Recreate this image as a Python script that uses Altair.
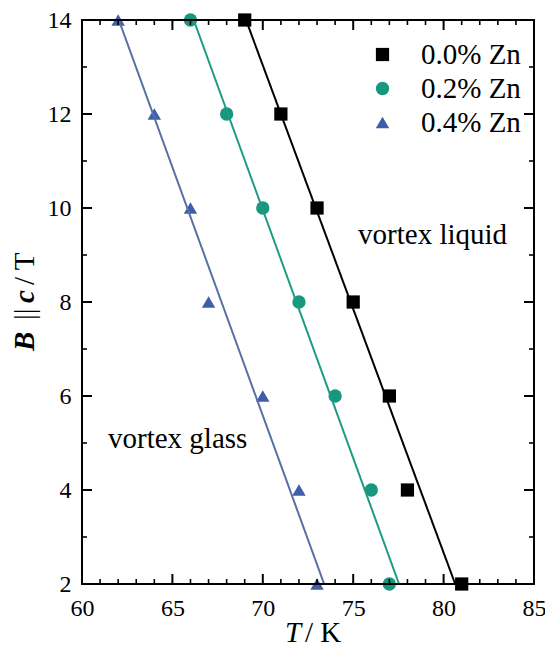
import altair as alt
import pandas as pd

# ---- data ----
B_field = [14, 12, 10, 8, 6, 4, 2]
T_00 = [69, 71, 73, 75, 77, 78, 81]
T_02 = [66, 68, 70, 72, 74, 76, 77]
T_04 = [62, 64, 66, 67, 70, 72, 73]
series_names = ["0.0% Zn", "0.2% Zn", "0.4% Zn"]
point_colors = ["#000000", "#17977e", "#3f5ea8"]
line_colors = ["#000000", "#1f9a83", "#5870a4"]
shapes = ["square", "circle", "triangle-up"]
sizes = [175, 180, 250]

x_major = [60, 65, 70, 75, 80, 85]
x_minor = [v for v in range(61, 85) if v % 5 != 0]
y_major = [2, 4, 6, 8, 10, 12, 14]
y_minor = [3, 5, 7, 9, 11, 13]

notes = ["vortex liquid", "vortex glass"]
note_T = [75.27, 61.44]
note_B = [9.24, 4.89]

W, H = 452, 564
FONT = "Liberation Serif"

rows = []
for name, Ts in zip(series_names, [T_00, T_02, T_04]):
    for t, b in zip(Ts, B_field):
        rows.append({"series": name, "T": t, "B": b})
df = pd.DataFrame(rows)

xs = alt.Scale(domain=[60, 85], nice=False, zero=False)
ys = alt.Scale(domain=[2, 14], nice=False, zero=False)

AX = alt.Axis(values=x_major, ticks=False, domain=False, grid=False, title=None, labelFlush=False,
              labelFont=FONT, labelFontSize=24, labelColor="black", labelPadding=12)
AY = alt.Axis(values=y_major, ticks=False, domain=False, grid=False, title=None, labelFlush=False,
              labelFont=FONT, labelFontSize=24, labelColor="black", labelPadding=11)

def X(f):
    return alt.X(f, scale=xs, axis=AX)

def Y(f):
    return alt.Y(f, scale=ys, axis=AY)

points = alt.Chart(df).mark_point(filled=True, opacity=1, clip=False).encode(
    x=X("T:Q"),
    y=Y("B:Q"),
    color=alt.Color("series:N", scale=alt.Scale(domain=series_names, range=point_colors),
                    legend=alt.Legend(title=None)),
    shape=alt.Shape("series:N", scale=alt.Scale(domain=series_names, range=shapes),
                    legend=alt.Legend(title=None)),
    size=alt.Size("series:N", scale=alt.Scale(domain=series_names, range=sizes),
                  legend=alt.Legend(title=None)),
)

lines = alt.Chart(df).transform_regression(
    "B", "T", groupby=["series"], extent=[2, 14]
).mark_line(clip=True, strokeWidth=2).encode(
    x=X("T:Q"),
    y=Y("B:Q"),
    stroke=alt.Stroke("series:N", scale=alt.Scale(domain=series_names, range=line_colors), legend=None),
    order="B:Q",
)

# inward ticks on all four sides
def xticks(vals, length, sw):
    d = pd.DataFrame({"T": vals})
    bottom = alt.Chart(d).mark_rule(color="black", strokeWidth=sw).encode(
        x=X("T:Q"), y=alt.value(H), y2=alt.value(H - length))
    top = alt.Chart(d).mark_rule(color="black", strokeWidth=sw).encode(
        x=X("T:Q"), y=alt.value(0), y2=alt.value(length))
    return [bottom, top]

def yticks(vals, length, sw):
    d = pd.DataFrame({"B": vals})
    left = alt.Chart(d).mark_rule(color="black", strokeWidth=sw).encode(
        y=Y("B:Q"), x=alt.value(0), x2=alt.value(length))
    right = alt.Chart(d).mark_rule(color="black", strokeWidth=sw).encode(
        y=Y("B:Q"), x=alt.value(W), x2=alt.value(W - length))
    return [left, right]

ticks = xticks(x_major, 10, 2) + xticks(x_minor, 5, 1.6) + yticks(y_major, 10, 2) + yticks(y_minor, 5, 1.6)

# frame (four rules)
one = pd.DataFrame({"f": [0]})
frame = [
    alt.Chart(one).mark_rule(color="black", strokeWidth=2).encode(
        x=alt.value(0), x2=alt.value(W), y=alt.value(0)),
    alt.Chart(one).mark_rule(color="black", strokeWidth=2).encode(
        x=alt.value(0), x2=alt.value(W), y=alt.value(H)),
    alt.Chart(one).mark_rule(color="black", strokeWidth=2).encode(
        x=alt.value(0), y=alt.value(0), y2=alt.value(H)),
    alt.Chart(one).mark_rule(color="black", strokeWidth=2).encode(
        x=alt.value(W), y=alt.value(0), y2=alt.value(H)),
]

notes_df = pd.DataFrame({"text": notes, "T": note_T, "B": note_B})
note_layer = alt.Chart(notes_df).mark_text(
    font=FONT, fontSize=29, align="left", baseline="alphabetic", color="black"
).encode(x=X("T:Q"), y=Y("B:Q"), text="text:N")

# axis titles with mixed styles
def label(txt, x, y, style="normal", weight="normal", angle=0, align="left", base="alphabetic"):
    return alt.Chart(pd.DataFrame({"t": [txt]})).mark_text(
        font=FONT, fontSize=29, fontStyle=style, fontWeight=weight, angle=angle,
        align=align, baseline=base, color="black"
    ).encode(x=alt.value(x), y=alt.value(y), text="t:N")

xt = [
    label("T", 203, 622, style="italic"),
    label("/ K", 223, 622),
]
yt = [
    label("B", -48, 331, style="italic", weight="bold", angle=270),
    label("||", -48, 300, angle=270),
    label("c", -48, 283, style="italic", weight="bold", angle=270),
    label("/ T", -48, 265, angle=270),
]

chart = alt.layer(points, lines, *ticks, *frame, note_layer, *xt, *yt).properties(
    width=W, height=H,
    autosize=alt.AutoSizeParams(type="none"),
    padding={"left": 74, "top": 12, "right": 11, "bottom": 63},
).configure_view(stroke="black", strokeWidth=2).configure_axis(
    labelFont=FONT, labelFontSize=24, labelColor="black"
).configure_legend(
    orient="none", legendX=286, legendY=20, labelFont=FONT, labelFontSize=29,
    labelColor="black", symbolStrokeWidth=0, symbolOpacity=1, labelOffset=24,
    rowPadding=4, padding=0
)

chart.save("out.html", embed_options={"renderer": "svg", "actions": False})
